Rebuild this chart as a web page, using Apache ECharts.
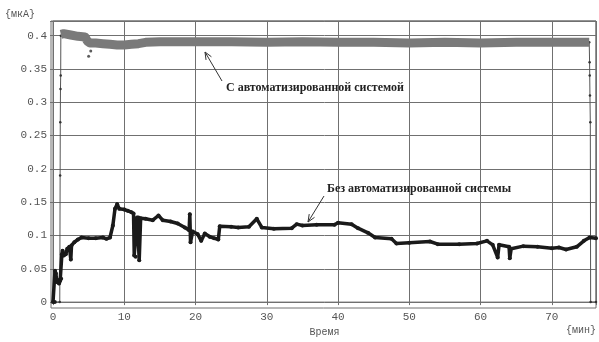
<!DOCTYPE html>
<html>
<head>
<meta charset="utf-8">
<script src="https://cdn.jsdelivr.net/npm/echarts@6/dist/echarts.min.js"></script>
<style>
  html, body { margin: 0; padding: 0; background: #fff; }
  #chart { width: 599px; height: 342px; }
</style>
</head>
<body>
<div id="chart"></div>
<script>
// оси
var xTicks = [0, 10, 20, 30, 40, 50, 60, 70];
var yTicks = [0, 0.05, 0.1, 0.15, 0.2, 0.25, 0.3, 0.35, 0.4];

// С автоматизированной системой (серая полоса)
var autoTime = [1.1, 1.5, 2.5, 3.5, 4.5, 4.8, 5.2, 6, 7, 8, 9, 10, 11, 12, 13, 15, 17, 20, 25, 30, 35, 40, 45, 50, 55, 60, 65, 70, 75.25];
var autoCurrent = [0.402, 0.403, 0.401, 0.399, 0.398, 0.392, 0.389, 0.389, 0.388, 0.387, 0.386, 0.386, 0.387, 0.388, 0.390, 0.391, 0.391, 0.391, 0.391, 0.390, 0.391, 0.390, 0.390, 0.389, 0.390, 0.389, 0.390, 0.390, 0.390];
// включение / выключение (тонкие участки)
var autoStartTime = [0, 0.95, 1.0, 1.02, 1.05, 1.08, 1.1];
var autoStartCurrent = [0, 0, 0.19, 0.27, 0.32, 0.34, 0.40];
var autoEndTime = [75.25, 75.3, 75.32, 75.35, 75.4, 75.45, 76.2];
var autoEndCurrent = [0.390, 0.36, 0.34, 0.31, 0.27, 0, 0];
var autoDipTime = [5.0, 5.3];
var autoDipCurrent = [0.369, 0.377];

// Без автоматизированной системы
var manualTime = [0, 0.25, 0.28, 0.4, 0.55, 0.7, 0.85, 1.0, 1.15, 1.25, 1.35, 1.5, 1.8, 2.0, 2.3, 2.5, 2.6, 3.0, 3.5, 4.0, 5, 6, 7, 7.5, 8.0, 8.4, 8.7, 9.0, 9.3, 10, 10.5, 11, 11.3, 11.4, 11.6, 11.8, 12.0, 12.1, 12.3, 13, 14, 14.8, 15.4, 16.5, 17.5, 18.5, 19.1, 19.2, 19.3, 19.6, 20.3, 20.8, 21.3, 22, 22.6, 23.2, 23.4, 25, 26, 27.5, 28.6, 29.3, 31, 33.5, 34.2, 35, 37, 39.5, 40, 41.9, 42.8, 44.2, 45.2, 47.5, 48.2, 50, 52.9, 54, 57, 59.5, 60.9, 61.7, 62.4, 62.6, 64, 64.1, 64.3, 66, 68, 70, 71, 72, 73.5, 74.5, 75.3, 76.2];
var manualCurrent = [0, 0, 0.047, 0.043, 0.030, 0.033, 0.028, 0.032, 0.035, 0.072, 0.077, 0.070, 0.072, 0.080, 0.083, 0.064, 0.085, 0.090, 0.094, 0.097, 0.096, 0.096, 0.097, 0.095, 0.097, 0.115, 0.140, 0.147, 0.140, 0.139, 0.137, 0.135, 0.133, 0.070, 0.068, 0.127, 0.127, 0.063, 0.126, 0.125, 0.123, 0.130, 0.123, 0.121, 0.118, 0.112, 0.108, 0.132, 0.090, 0.106, 0.102, 0.092, 0.103, 0.098, 0.096, 0.094, 0.114, 0.113, 0.112, 0.113, 0.125, 0.112, 0.110, 0.111, 0.117, 0.115, 0.116, 0.116, 0.119, 0.117, 0.111, 0.104, 0.097, 0.095, 0.088, 0.089, 0.091, 0.087, 0.087, 0.088, 0.092, 0.086, 0.067, 0.086, 0.083, 0.066, 0.080, 0.084, 0.083, 0.081, 0.082, 0.079, 0.083, 0.092, 0.097, 0.096];

function pairs(xs, ys) {
  return xs.map(function (x, i) { return [x, ys[i]]; });
}
function onTick(v, ticks) {
  return ticks.some(function (t) { return Math.abs(t - v) < 1e-6; });
}

var gridColor = '#707070';
var labelFont = 'Liberation Mono';

var myChart = echarts.init(document.getElementById('chart'));

var option = {
  animation: false,
  backgroundColor: '#fff',
  grid: {
    left: 53, right: 3, top: 21, bottom: 35,
    show: true, borderColor: gridColor, borderWidth: 1
  },
  xAxis: {
    type: 'value',
    min: 0, max: 76.2, interval: 10,
    name: 'Время',
    nameLocation: 'middle',
    nameGap: 19,
    nameTextStyle: { color: '#555', fontFamily: labelFont, fontSize: 10 },
    axisLine: { show: false },
    axisTick: { show: true, length: 3, lineStyle: { color: gridColor } },
    axisLabel: {
      color: '#555', fontFamily: labelFont, fontSize: 11, margin: 9,
      formatter: function (v) { return onTick(v, xTicks) ? String(v) : ''; }
    },
    splitLine: { show: true, lineStyle: { color: gridColor, width: 1 } }
  },
  yAxis: {
    type: 'value',
    min: 0, max: 0.422, interval: 0.05,
    axisLine: { show: false },
    axisTick: { show: true, length: 3, lineStyle: { color: gridColor } },
    axisLabel: {
      color: '#555', fontFamily: labelFont, fontSize: 11, margin: 6,
      formatter: function (v) { return onTick(v, yTicks) ? String(+v.toFixed(2)) : ''; }
    },
    splitLine: { show: true, lineStyle: { color: gridColor, width: 1 } }
  },
  series: [
    {
      name: 'auto',
      type: 'line',
      data: pairs(autoTime, autoCurrent),
      showSymbol: false,
      lineStyle: { color: '#7a7a7a', width: 9, join: 'round' },
      z: 3
    },
    {
      name: 'autoStart',
      type: 'line',
      data: pairs(autoStartTime, autoStartCurrent),
      symbol: 'circle', symbolSize: 2.5,
      itemStyle: { color: '#333' },
      lineStyle: { color: '#555', width: 1 },
      z: 2
    },
    {
      name: 'autoEnd',
      type: 'line',
      data: pairs(autoEndTime, autoEndCurrent),
      symbol: 'circle', symbolSize: 2.5,
      itemStyle: { color: '#333' },
      lineStyle: { color: '#555', width: 1 },
      z: 2
    },
    {
      name: 'autoDip',
      type: 'scatter',
      data: pairs(autoDipTime, autoDipCurrent),
      symbolSize: 3,
      itemStyle: { color: '#333' },
      z: 4
    },
    {
      name: 'manual',
      type: 'line',
      data: pairs(manualTime, manualCurrent),
      symbol: 'circle', symbolSize: 4,
      showAllSymbol: true,
      itemStyle: { color: '#1a1a1a' },
      lineStyle: { color: '#1a1a1a', width: 3.5, join: 'round' },
      z: 5
    }
  ]
};
myChart.setOption(option);

// подписи и стрелки
function arrow(x1, y1, x2, y2) {
  var dx = x2 - x1, dy = y2 - y1;
  var len = Math.sqrt(dx * dx + dy * dy);
  var ux = dx / len, uy = dy / len;
  var a = 0.4, h = 8;
  function rot(ang) {
    var c = Math.cos(ang), s = Math.sin(ang);
    return [x2 - h * (ux * c - uy * s), y2 - h * (ux * s + uy * c)];
  }
  return [
    { type: 'line', shape: { x1: x1, y1: y1, x2: x2, y2: y2 }, style: { stroke: '#333', lineWidth: 1 }, z: 10 },
    { type: 'polyline', shape: { points: [rot(a), [x2, y2], rot(-a)] }, style: { stroke: '#333', lineWidth: 1, fill: null }, z: 10 }
  ];
}

var labelStyle = { fill: '#222', font: 'bold 12px "Liberation Serif"', textVerticalAlign: 'middle' };
myChart.setOption({
  graphic: [
    { type: 'text', left: 5, top: 9, style: { text: '{мкА}', fill: '#555', font: '10px "Liberation Mono"' } },
    { type: 'text', right: 3, top: 325, style: { text: '{мин}', fill: '#555', font: '10px "Liberation Mono"' } },
    { type: 'rect', shape: { x: 51, y: 21, width: 545, height: 287 }, style: { stroke: gridColor, fill: null, lineWidth: 1 }, z: 1 },
    { type: 'text', x: 226, y: 88, style: Object.assign({ text: 'С автоматизированной системой' }, labelStyle), z: 10 },
    { type: 'text', x: 327, y: 189, style: Object.assign({ text: 'Без автоматизированной системы' }, labelStyle), z: 10 }
  ].concat(arrow(222, 81, 205, 52)).concat(arrow(324, 196, 308, 222))
});
</script>
</body>
</html>
